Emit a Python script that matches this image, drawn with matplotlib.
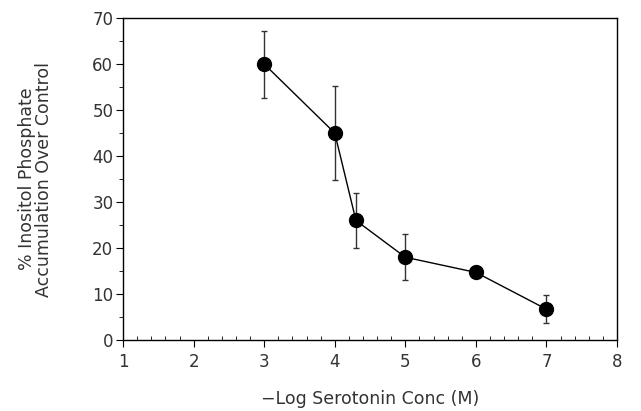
import numpy as np
import matplotlib
matplotlib.use('Agg')
import matplotlib.pyplot as plt
from matplotlib.ticker import MultipleLocator

# serotonin dose response
log_conc = [3, 4, 4.3, 5, 6, 7]
ip_accum = [60, 45, 26, 18, 14.7, 6.7]
ip_err = [7.3, 10.2, 6.0, 5.0, 0.0, 3.0]

x_ticks = [1, 2, 3, 4, 5, 6, 7, 8]
y_ticks = [0, 10, 20, 30, 40, 50, 60, 70]

plt.rcParams['font.family'] = ['DejaVu Sans']

fig = plt.figure(figsize=(6.41, 4.11), dpi=100)
ax = fig.add_axes([0.192, 0.1727, 0.7706, 0.7833])

ax.errorbar(log_conc, ip_accum, yerr=ip_err, fmt='-o', color='black',
            markersize=10, linewidth=1, elinewidth=1, capsize=2.5, capthick=1,
            ecolor='#333333')

ax.set_xlim(1, 8)
ax.set_ylim(0, 70)
ax.set_xticks(x_ticks)
ax.set_yticks(y_ticks)
ax.xaxis.set_minor_locator(MultipleLocator(0.2))
ax.yaxis.set_minor_locator(MultipleLocator(5))
ax.tick_params(axis='x', which='major', direction='out', length=5, labelsize=12,
               labelcolor='#333333', pad=4)
ax.tick_params(axis='x', which='minor', direction='in', length=3)
ax.tick_params(axis='y', which='major', direction='out', length=5, labelsize=12,
               labelcolor='#333333', pad=2)
ax.tick_params(axis='y', which='minor', direction='out', length=3)

for s in ax.spines.values():
    s.set_linewidth(1)

ax.set_xlabel('\u2212Log Serotonin Conc (M)', fontsize=12.5, color='#333333', labelpad=14)
ax.set_ylabel('% Inositol Phosphate\nAccumulation Over Control', fontsize=12.5,
              color='#333333', labelpad=28, linespacing=0.95)

fig.savefig('out.png', dpi=100)
